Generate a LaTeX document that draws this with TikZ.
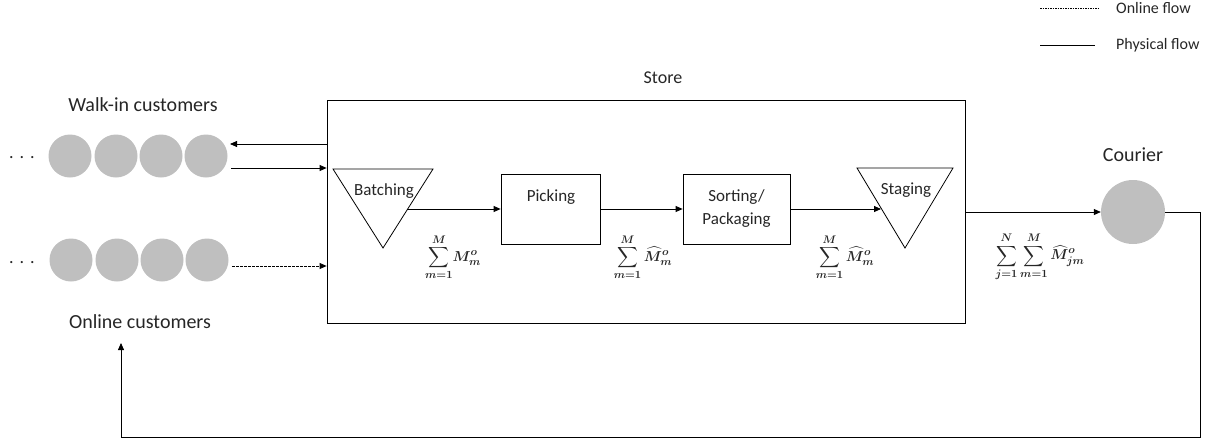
\documentclass[tikz,border=0pt]{standalone}
\usepackage{fontspec}
\setmainfont{Carlito}
\usepackage{amsmath,bm}
\usetikzlibrary{arrows.meta}

\begin{document}
\begin{tikzpicture}[x=1pt,y=-1pt,
  every node/.style={inner sep=0pt, text=black!85},
  flow/.style={-{Triangle[length=7pt,width=6pt]}, line width=0.8pt},
  onlineflow/.style={flow, dash pattern=on 2.5pt off 1.5pt},
  cust/.style={circle, fill=black!25, minimum size=43pt},
  stepbox/.style={draw, line width=0.8pt, minimum height=70pt},
  outerlbl/.style={font=\fontsize{20}{24}\selectfont},
  innerlbl/.style={font=\fontsize{17}{23}\selectfont, align=center},
  legendlbl/.style={font=\fontsize{16}{19}\selectfont, anchor=west},
  qty/.style={font=\fontsize{15}{18}\selectfont\boldmath}]
\useasboundingbox (0,0) rectangle (1222,439);

% legend
\coordinate (lga) at (1040,8);
\coordinate (lgb) at (1100,8);
\coordinate (lgc) at (1040,45);
\coordinate (lgd) at (1095,45);
\draw[line width=0.8pt, dash pattern=on 1.5pt off 1pt] (lga) -- (lgb);
\draw[line width=0.8pt] (lgc) -- (lgd);
\node[legendlbl] (lgonline) at (1116,8) {Online flow};
\node[legendlbl] (lgphys) at (1116,45) {Physical flow};

% store
\node[draw, line width=0.8pt, minimum width=638pt, minimum height=223pt] (store) at (646,211.5) {};
\node[font=\fontsize{18}{22}\selectfont] (storelbl) at (663,78) {Store};

% customer queues
\node[outerlbl] (walkinlbl) at (143,105) {Walk-in customers};
\node[outerlbl] (onlinelbl) at (140,322) {Online customers};
\foreach \i/\x in {1/70,2/116,3/161,4/206} {
  \node[cust] (w\i) at (\x,156) {};
  \node[cust] (o\i) at (\x+1,260) {};
}
\node[font=\fontsize{18}{22}\selectfont] (wdots) at (22,158) {.\,\,.\,\,.};
\node[font=\fontsize{18}{22}\selectfont] (odots) at (22,263) {.\,\,.\,\,.};

\coordinate (wout) at (230,144);
\coordinate (win) at (231,168);
\coordinate (oin) at (232,266);
\draw[flow] (store.west |- wout) -- (wout);
\draw[flow] (win) -- (store.west |- win);
\draw[onlineflow] (oin) -- (store.west |- oin);

% batching
\coordinate (ba) at (333,169);
\coordinate (bb) at (433,169);
\coordinate (bc) at (383,248);
\draw[line width=0.8pt] (ba) -- (bb) -- (bc) -- cycle;
\node[innerlbl] (batch) at (384,191) {Batching};
\coordinate (bout) at (407,209);

% picking
\node[stepbox, minimum width=99pt] (pick) at (550.5,209) {};
\node[innerlbl] (picklbl) at (551,197) {Picking};

% sorting / packaging
\node[stepbox, minimum width=107pt, innerlbl] (sort) at (736.5,209) {Sorting/\\Packaging};

% staging
\coordinate (sa) at (857,168);
\coordinate (sb) at (953,168);
\coordinate (sc) at (905,248);
\draw[line width=0.8pt] (sa) -- (sb) -- (sc) -- cycle;
\node[innerlbl] (stage) at (906,190) {Staging};
\coordinate (sin) at (881,209);

\draw[flow] (bout) -- (pick.west);
\draw[flow] (pick.east) -- (sort.west);
\draw[flow] (sort.east) -- (sin);

% courier
\node[cust, minimum size=64pt] (courier) at (1133,212) {};
\node[outerlbl] (courierlbl) at (1133,155) {Courier};
\draw[flow] (store.east |- courier) -- (courier.west);

% return path to online customers
\coordinate (rta) at (1200,212);
\coordinate (rtb) at (1200,437);
\coordinate (rtc) at (121,437);
\coordinate (rtd) at (121,343);
\draw[flow] (courier.east) -- (rta) -- (rtb) -- (rtc) -- (rtd);

% order quantities
\node[qty] (q1) at (453,257) {$\displaystyle\sum_{\bm{m=1}}^{\bm{M}}\!\bm{M_m^o}$};
\node[qty] (q2) at (643,257) {$\displaystyle\sum_{\bm{m=1}}^{\bm{M}}\bm{\widehat{M}_m^o}$};
\node[qty] (q3) at (845,257) {$\displaystyle\sum_{\bm{m=1}}^{\bm{M}}\bm{\widehat{M}_m^o}$};
\node[qty] (q4) at (1040,257) {$\displaystyle\sum_{\bm{j=1}}^{\bm{N}}\sum_{\bm{m=1}}^{\bm{M}}\bm{\widehat{M}_{jm}^o}$};
\end{tikzpicture}
\end{document}
